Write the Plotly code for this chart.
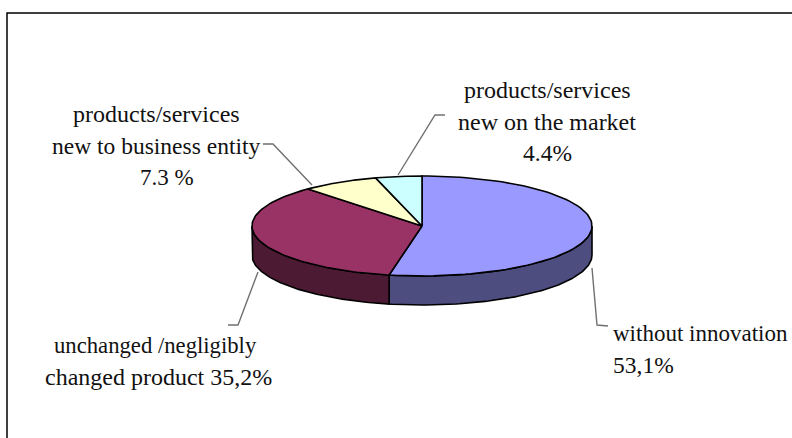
import numpy as np
import plotly.graph_objects as go

categories = ["without innovation", "unchanged /negligibly changed product",
              "products/services new to business entity", "products/services new on the market"]
values = [53.1, 35.2, 7.3, 4.4]
label_texts = [
    "products/services", "new to business entity", "7.3 %",
    "products/services", "new on the market", "4.4%",
    "without innovation", "53,1%",
    "unchanged /negligibly", "changed product 35,2%",
]

# Styling and layout, kept apart from the data above
top_colors = ["#9999ff", "#993366", "#ffffcc", "#ccffff"]
side_colors = ["#4d4d80", "#4d1a33", "#808066", "#668080"]
label_layout = [
    (156, 114, "center", 24), (156, 146, "center", 23.5), (167, 177, "center", 23),
    (547, 90, "center", 24), (547, 122, "center", 24), (547, 153, "center", 23.5),
    (611, 333, "left", 23), (611, 365, "left", 23.5),
    (155.5, 345, "center", 22.7), (158, 377, "center", 24),
]
leader_paths = [
    ([263, 273, 312], [144, 144, 185]),
    ([398, 435, 445], [175, 115, 115]),
    ([592, 597, 608], [268, 325, 326]),
    ([258, 238, 228], [272, 325, 325]),
]
CX, CY, RX, RY, DEPTH = 422, 226, 170, 50, 29


def arc(a0, a1, n=90):
    t = np.radians(np.linspace(a0, a1, n))
    return CX + RX * np.sin(t), CY - RY * np.cos(t)


fig = go.Figure()
edges = np.concatenate([[0], np.cumsum(values)]) / sum(values) * 360

# Side walls (only the front half of the rim shows)
for i in range(len(values)):
    a0, a1 = max(edges[i], 90), min(edges[i + 1], 270)
    if a0 >= a1:
        continue
    x, y = arc(a0, a1)
    fig.add_trace(go.Scatter(
        x=np.concatenate([x, x[::-1], x[:1]]),
        y=np.concatenate([y, y[::-1] + DEPTH, y[:1]]),
        mode="lines", fill="toself", fillcolor=side_colors[i],
        line=dict(color="#000000", width=1.6), hoverinfo="skip", showlegend=False))

# Top faces
for i in range(len(values)):
    x, y = arc(edges[i], edges[i + 1])
    fig.add_trace(go.Scatter(
        x=np.concatenate([[CX], x, [CX]]),
        y=np.concatenate([[CY], y, [CY]]),
        mode="lines", fill="toself", fillcolor=top_colors[i],
        line=dict(color="#000000", width=1.6), name=categories[i],
        hoverinfo="name", showlegend=False))

# Leader lines
for lx, ly in leader_paths:
    fig.add_trace(go.Scatter(x=lx, y=ly, mode="lines",
                             line=dict(color="#707070", width=1.4),
                             hoverinfo="skip", showlegend=False))

# Frame (top and left edges)
fig.add_trace(go.Scatter(x=[7, 7, 792], y=[438, 13, 13], mode="lines",
                         line=dict(color="#000000", width=1.5),
                         hoverinfo="skip", showlegend=False))

for text, (x, y, anchor, size) in zip(label_texts, label_layout):
    fig.add_annotation(x=x, y=y, text=text, showarrow=False, xanchor=anchor, yanchor="middle",
                       font=dict(family="Liberation Serif", size=size, color="#111111"))

fig.update_layout(
    width=792, height=438, autosize=False,
    margin=dict(l=0, r=0, t=0, b=0),
    paper_bgcolor="white", plot_bgcolor="white",
    xaxis=dict(range=[0, 792], visible=False, fixedrange=True),
    yaxis=dict(range=[438, 0], visible=False, fixedrange=True),
)
fig.write_html("out.html", config=dict(displayModeBar=False),
               post_script="document.body.style.margin='0';")
